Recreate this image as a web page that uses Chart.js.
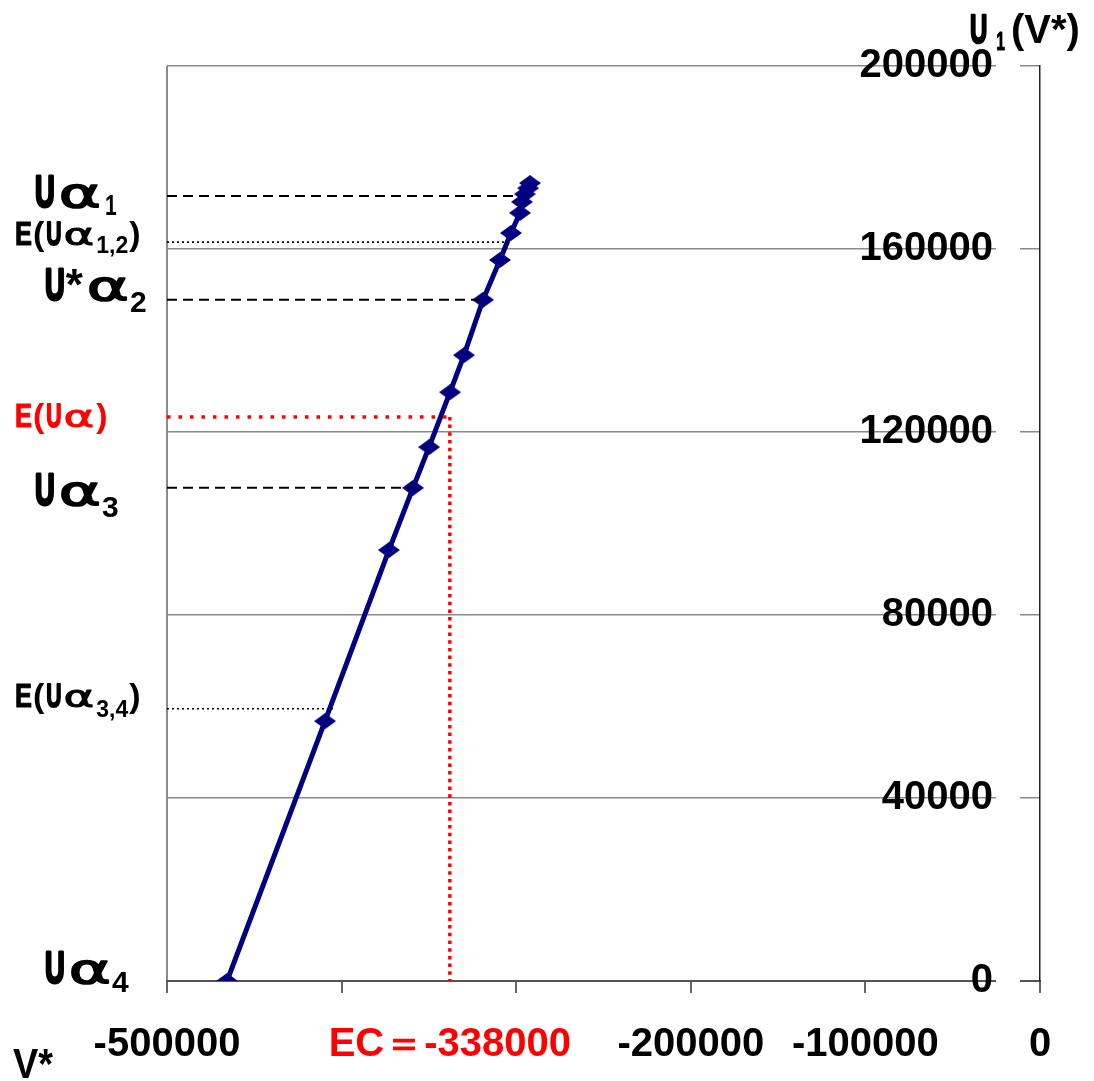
<!DOCTYPE html>
<html>
<head>
<meta charset="utf-8">
<script src="https://cdn.jsdelivr.net/npm/chart.js@4.4.1/dist/chart.umd.min.js"></script>
<style>
  html, body { margin: 0; padding: 0; background: #ffffff; }
  #wrap { width: 1094px; height: 1081px; }
</style>
</head>
<body>
<div id="wrap"><canvas id="c" width="1094" height="1081"></canvas></div>
<script>
// U1 as a function of V*
const vStar = [-465600, -409500, -372900, -359100, -349900, -337900, -329900, -319000,
               -309300, -303000, -297800, -296700, -295000, -293200, -292100];
const uOne  = [0, 56800, 94200, 107800, 116700, 128700, 136800, 148900,
               157600, 163500, 167900, 170300, 172000, 173300, 174400];

// axis ticks
const xTicks = [-500000, -400000, -300000, -200000, -100000, 0];
const xTickLabels = ['-500000', '', '', '-200000', '-100000', '0'];
const yTicks = [0, 40000, 80000, 120000, 160000, 200000];

// equilibrium point
const EC = -338000;
const ecLabel = 'EC\uFF1D-338000';

// reference levels: Uα1, E(Uα1,2), U*α2, E(Uα), Uα3, E(Uα3,4)
const levelValues = [171600, 161500, 148900, 123300, 107800, 59500];
const levelEnds   = [-299500, -304700, -320700, EC, -359100, -404900];
const levelKinds  = ['dash', 'dot', 'dash', 'red', 'dash', 'dot'];

const SANS = '"Liberation Sans", Arial, sans-serif';
const GREEK = '"DejaVu Sans", sans-serif';

function diamond(w, h, color) {
  const c = document.createElement('canvas');
  c.width = w; c.height = h;
  const g = c.getContext('2d');
  g.fillStyle = color;
  g.beginPath();
  g.moveTo(w / 2, 0); g.lineTo(w, h / 2); g.lineTo(w / 2, h); g.lineTo(0, h / 2);
  g.closePath(); g.fill();
  return c;
}

const lineStyles = {
  dash: { color: '#000000', dash: [10, 6], width: 2 },
  dot:  { color: '#000000', dash: [2, 3], width: 1.6 },
  red:  { color: '#ff0000', dash: [3.5, 8], width: 3.5 }
};

const levelSets = levelValues.map((v, i) => {
  const st = lineStyles[levelKinds[i]];
  return {
    data: [{ x: -500000, y: v }, { x: levelEnds[i], y: v }],
    showLine: true, borderColor: st.color, borderDash: st.dash, borderWidth: st.width,
    pointRadius: 0, order: 2
  };
});
levelSets.push({
  data: [{ x: EC, y: levelValues[3] }, { x: EC, y: 0 }],
  showLine: true, borderColor: '#ff0000', borderDash: [3.5, 4.2], borderWidth: 3.5,
  pointRadius: 0, order: 1
});

const curve = {
  data: vStar.map((x, i) => ({ x, y: uOne[i] })),
  showLine: true, borderColor: '#000080', borderWidth: 5,
  pointStyle: diamond(22, 16, '#000080'), pointRadius: 8, order: 3
};

// multi-part text with subscripts; sx squeezes or widens a part, st thickens its strokes
function rich(ctx, x, base, parts, color) {
  ctx.fillStyle = color;
  ctx.strokeStyle = color;
  ctx.lineJoin = 'round';
  ctx.textAlign = 'left';
  ctx.textBaseline = 'alphabetic';
  let cx = x;
  for (const p of parts) {
    const sx = p.sx || 1;
    cx += (p.dx || 0);
    ctx.font = p.f;
    ctx.save();
    ctx.translate(cx, base + (p.dy || 0));
    ctx.scale(sx, 1);
    ctx.fillText(p.t, 0, 0);
    if (p.st) { ctx.lineWidth = p.st; ctx.strokeText(p.t, 0, 0); }
    ctx.restore();
    cx += ctx.measureText(p.t).width * sx;
  }
}

const BIG = 'bold 44px ' + SANS;
const BIGA = '40px ' + GREEK;
const SUB = 'bold 30px ' + SANS;
const MID = 'bold 34px ' + SANS;
const MIDA = '31px ' + GREEK;
const SSUB = 'bold 23px ' + SANS;

const bigU = { t: 'U', f: BIG, sx: 0.62, st: 3 };
const bigA = { t: '\u03B1', f: BIGA, sx: 1.6, dx: 4, st: 1.5 };
const midA = { t: '\u03B1', f: MIDA, sx: 1.5, dx: 2, st: 1 };
const midE = { t: 'E', f: MID, sx: 0.75, st: 1 };
const midU = { t: 'U', f: MID, sx: 0.62, dx: 2, st: 2 };

const annotations = {
  id: 'annotations',
  beforeDatasetsDraw(chart) {
    // small gap between the value labels and the axis ticks
    const ctx = chart.ctx, ys = chart.scales.y, r = chart.chartArea.right;
    ctx.save();
    ctx.fillStyle = '#ffffff';
    yTicks.forEach(v => {
      const py = ys.getPixelForValue(v);
      ctx.fillRect(r - 44, py - 2, 24, 4);
    });
    ctx.restore();
  },
  afterDraw(chart) {
    const ctx = chart.ctx, ys = chart.scales.y;
    const py = v => ys.getPixelForValue(v);
    ctx.save();
    rich(ctx, 35, py(levelValues[0]) + 11,
      [bigU, bigA, { t: '1', f: SUB, dy: 8, dx: 4, sx: 0.7 }], '#000');
    rich(ctx, 15, py(levelValues[1]) + 3,
      [midE, { t: '(', f: MID, dx: 1 }, midU, midA,
       { t: '1,2', f: SSUB, dy: 8, dx: 2 }, { t: ')', f: MID, dx: 1 }], '#000');
    rich(ctx, 45, py(levelValues[2]) + 0,
      [bigU, { t: '*', f: BIG, dx: 1 }, bigA, { t: '2', f: SUB, dy: 12, dx: 1 }], '#000');
    rich(ctx, 15, py(levelValues[3]) + 10,
      [midE, { t: '(', f: MID, dx: 1 }, midU, midA,
       { t: ')', f: MID, dx: 2 }], '#ff0000');
    rich(ctx, 35, py(levelValues[4]) + 17,
      [bigU, bigA, { t: '3', f: SUB, dy: 12, dx: 1 }], '#000');
    rich(ctx, 15, py(levelValues[5]) - 2,
      [midE, { t: '(', f: MID, dx: 1 }, midU, midA,
       { t: '3,4', f: SSUB, dy: 10, dx: 2 }, { t: ')', f: MID, dx: 1 }], '#000');
    rich(ctx, 45, py(0) + 2,
      [bigU, bigA, { t: '4', f: SUB, dy: 9, dx: 1 }], '#000');

    // axis titles
    rich(ctx, 970, 43,
      [{ t: 'U', f: 'bold 40px ' + SANS, sx: 0.6, st: 2.5 }, { t: '1', f: 'bold 26px ' + SANS, dy: 7, dx: 9, sx: 0.6, st: 1 },
       { t: '(V*)', f: 'bold 40px ' + SANS, dx: 6 }], '#000');
    rich(ctx, 13, 1078, [{ t: 'V*', f: 'bold 42px ' + SANS, sx: 0.9 }], '#000');
    ctx.restore();
  }
};

new Chart(document.getElementById('c'), {
  type: 'scatter',
  data: { datasets: [curve, ...levelSets] },
  options: {
    responsive: false,
    animation: false,
    layout: { padding: { left: 167, top: 66, right: 0, bottom: 0 } },
    plugins: { legend: { display: false }, tooltip: { enabled: false } },
    scales: {
      x: {
        type: 'linear', min: -500000, max: 0,
        afterBuildTicks: s => {
          s.ticks = xTicks.concat([EC]).sort((a, b) => a - b).map(v => ({ value: v }));
        },
        afterFit: s => { s.height = 100; s.paddingLeft = 0; s.paddingRight = 0; },
        grid: {
          color: c => (c.tick && c.tick.value === -500000) ? '#8a8a8a' : 'rgba(0,0,0,0)',
          lineWidth: 2,
          tickColor: c => (c.tick && c.tick.value === EC) ? 'rgba(0,0,0,0)' : '#333333',
          tickLength: 12, tickWidth: 1.5
        },
        border: { display: true, color: '#555555', width: 2 },
        ticks: {
          autoSkip: false, maxRotation: 0, minRotation: 0, padding: 28,
          callback: v => v === EC ? ecLabel : xTickLabels[xTicks.indexOf(v)],
          color: c => (c.tick && c.tick.value === EC) ? '#ff0000' : '#000000',
          font: { family: SANS, size: 40, weight: 'bold' }
        }
      },
      y: {
        type: 'linear', position: 'right', min: 0, max: 200000,
        afterBuildTicks: s => { s.ticks = yTicks.map(v => ({ value: v })); },
        afterFit: s => { s.width = 54; s.paddingTop = 0; s.paddingBottom = 0; },
        grid: { color: '#8a8a8a', lineWidth: 1.5, drawTicks: false },
        border: { display: true, color: '#222222', width: 1.5 },
        ticks: {
          mirror: true, padding: -47, color: '#000000',
          callback: v => String(v),
          font: { family: SANS, size: 40, weight: 'bold' }
        }
      }
    }
  },
  plugins: [annotations]
});
</script>
</body>
</html>
